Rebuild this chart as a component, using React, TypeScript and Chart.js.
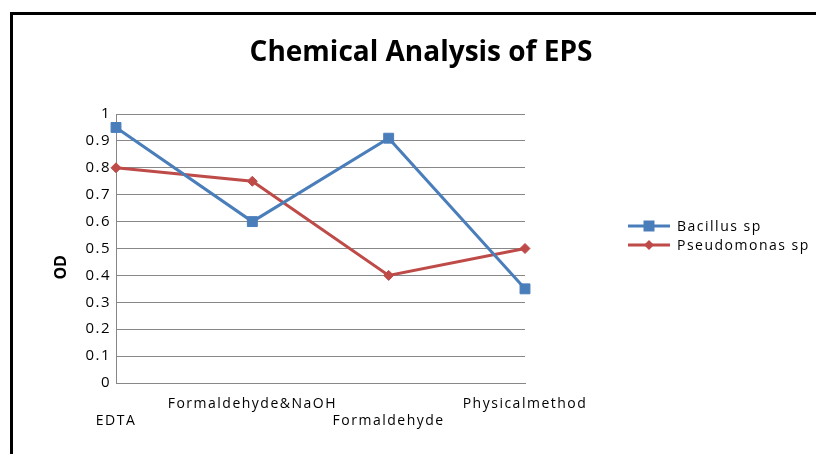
import React, { useEffect, useRef } from "react";
import { Chart, registerables } from "chart.js";

Chart.register(...registerables);

const categories: string[] = ["EDTA", "Formaldehyde&NaOH", "Formaldehyde", "Physicalmethod"];
const bacillusValues: number[] = [0.95, 0.6, 0.91, 0.35];
const pseudomonasValues: number[] = [0.8, 0.75, 0.4, 0.5];
const seriesNames: string[] = ["Bacillus sp", "Pseudomonas sp"];
const seriesColors: string[] = ["#4A7EBB", "#BE4B48"];
const chartTitle = "Chemical Analysis of EPS";
const yAxisTitle = "OD";
const yMin = 0;
const yMax = 1;
const yStep = 0.1;

const FONT = "'Open Sans', 'DejaVu Sans', sans-serif";
const SPACING = "1.5px";

const decorPlugin = {
  id: "decor",
  beforeUpdate(chart: any) {
    (chart.ctx as any).letterSpacing = SPACING;
  },
  beforeDraw(chart: any) {
    const ctx = chart.ctx;
    ctx.save();
    ctx.fillStyle = "#ffffff";
    ctx.fillRect(0, 0, chart.width, chart.height);
    ctx.strokeStyle = "#000000";
    ctx.lineWidth = 3;
    ctx.beginPath();
    ctx.moveTo(11.5, chart.height + 5);
    ctx.lineTo(11.5, 13.5);
    ctx.lineTo(chart.width + 5, 13.5);
    ctx.stroke();
    ctx.restore();
    (ctx as any).letterSpacing = SPACING;
  },
  afterDraw(chart: any) {
    const ctx = chart.ctx;
    const area = chart.chartArea;
    ctx.save();
    // title
    (ctx as any).letterSpacing = "0px";
    ctx.fillStyle = "#000000";
    ctx.font = `bold 28px ${FONT}`;
    ctx.textAlign = "center";
    ctx.textBaseline = "middle";
    ctx.fillText(chartTitle, 421, 53);
    // y axis title
    ctx.save();
    ctx.translate(61, area.top + (area.bottom - area.top) * 0.57);
    ctx.rotate(-Math.PI / 2);
    ctx.font = `bold 16px ${FONT}`;
    ctx.fillText(yAxisTitle, 0, 0);
    ctx.restore();
    // legend
    (ctx as any).letterSpacing = SPACING;
    const x0 = 628;
    const x1 = 670;
    const cx = (x0 + x1) / 2;
    seriesNames.forEach((name: string, i: number) => {
      const y = 226 + i * 19;
      ctx.strokeStyle = seriesColors[i];
      ctx.lineWidth = 3;
      ctx.beginPath();
      ctx.moveTo(x0, y);
      ctx.lineTo(x1, y);
      ctx.stroke();
      ctx.fillStyle = seriesColors[i];
      ctx.beginPath();
      if (i === 0) {
        ctx.rect(cx - 5.5, y - 5.5, 11, 11);
      } else {
        ctx.moveTo(cx - 5, y);
        ctx.lineTo(cx, y - 5);
        ctx.lineTo(cx + 5, y);
        ctx.lineTo(cx, y + 5);
        ctx.closePath();
      }
      ctx.fill();
      ctx.fillStyle = "#000000";
      ctx.font = `14px ${FONT}`;
      ctx.textAlign = "left";
      ctx.textBaseline = "middle";
      ctx.fillText(name, 677, y + 1);
    });
    ctx.restore();
  },
};

export default function App() {
  const canvasRef = useRef<HTMLCanvasElement | null>(null);

  useEffect(() => {
    const canvas = canvasRef.current;
    if (!canvas) return;
    const chart = new Chart(canvas, {
      type: "line",
      data: {
        labels: categories,
        datasets: [
          {
            label: seriesNames[0],
            data: bacillusValues,
            borderColor: seriesColors[0],
            backgroundColor: seriesColors[0],
            borderWidth: 3,
            pointStyle: "rect",
            pointRadius: 7,
            pointBorderWidth: 1,
            pointBackgroundColor: seriesColors[0],
            pointBorderColor: seriesColors[0],
            tension: 0,
            clip: false as any,
          },
          {
            label: seriesNames[1],
            data: pseudomonasValues,
            borderColor: seriesColors[1],
            backgroundColor: seriesColors[1],
            borderWidth: 3,
            pointStyle: "rectRot",
            pointRadius: 5,
            pointBorderWidth: 1,
            pointBackgroundColor: seriesColors[1],
            pointBorderColor: seriesColors[1],
            tension: 0,
            clip: false as any,
          },
        ],
      },
      options: {
        responsive: false,
        animation: false,
        layout: { padding: { top: 114, right: 291, bottom: 11, left: 0 } },
        plugins: {
          legend: { display: false },
          title: { display: false },
          tooltip: { enabled: false },
        },
        scales: {
          x: {
            type: "category",
            offset: false,
            grid: { display: false, drawTicks: false },
            border: { display: true, color: "#878787", width: 1 },
            ticks: {
              autoSkip: false,
              maxRotation: 0,
              minRotation: 0,
              padding: 12,
              color: "#000000",
              font: { family: FONT, size: 14, lineHeight: 1.25 },
              callback: function (this: any, _v: any, index: number) {
                const label = categories[index];
                return index % 2 === 0 ? ["", label] : [label];
              },
            },
            afterFit: (s: any) => {
              s.height = 60;
            },
          },
          y: {
            min: yMin,
            max: yMax,
            grid: { display: true, color: "#878787", lineWidth: 1, drawTicks: false },
            border: { display: true, color: "#878787", width: 1 },
            ticks: {
              stepSize: yStep,
              padding: 5,
              color: "#000000",
              font: { family: FONT, size: 15 },
              callback: (v: any) => String(Number(Number(v).toFixed(1))),
            },
            afterFit: (s: any) => {
              s.width = 116;
            },
          },
        },
      },
      plugins: [decorPlugin],
    });
    return () => chart.destroy();
  }, []);

  return (
    <div style={{ position: "absolute", left: 0, top: 0, width: 816, height: 454 }}>
      <canvas ref={canvasRef} width={816} height={454} style={{ display: "block", width: 816, height: 454 }} />
    </div>
  );
}
